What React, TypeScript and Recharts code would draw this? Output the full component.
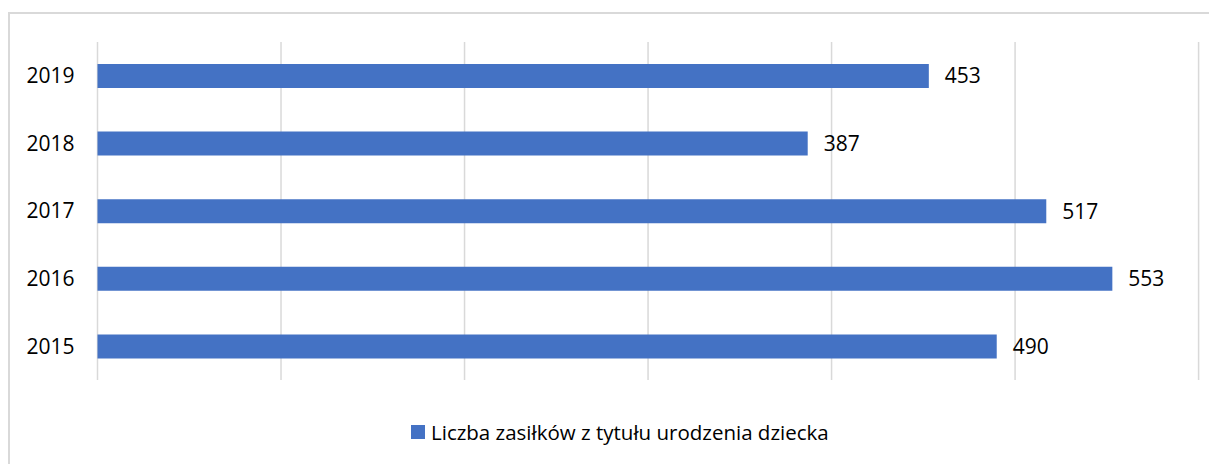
import React from "react";
import { BarChart, Bar, XAxis, YAxis, CartesianGrid, LabelList, Legend } from "recharts";

const years = ["2019", "2018", "2017", "2016", "2015"];
const values = [453, 387, 517, 553, 490];
const xTicks = [0, 100, 200, 300, 400, 500, 600];
const seriesName = "Liczba zasiłków z tytułu urodzenia dziecka";

const data = years.map((y, i) => ({ year: y, value: values[i] }));

const FONT = "'Open Sans', 'Liberation Sans', sans-serif";

const LegendContent = () => (
  <div style={{ display: "flex", alignItems: "center", height: 20, fontFamily: FONT, fontSize: 20.5, color: "#000", whiteSpace: "nowrap" }}>
    <span style={{ display: "inline-block", width: 14, height: 14, background: "#4472c4", marginRight: 6, flexShrink: 0 }} />
    <span>{seriesName}</span>
  </div>
);

export default function App() {
  return (
    <div style={{ position: "relative", width: 1209, height: 456, overflow: "hidden" }}>
      <div
        style={{
          position: "absolute",
          left: 0,
          top: 4,
          width: 1300,
          height: 600,
          borderLeft: "2px solid #d9d9d9",
          borderTop: "2px solid #d9d9d9",
        }}
      />
      <div style={{ position: "absolute", left: 0, top: 0 }}>
        <BarChart
          width={1209}
          height={456}
          data={data}
          layout="vertical"
          margin={{ top: 34, right: 18.4, bottom: 64, left: 9.5 }}
          barSize={24}
        >
          <CartesianGrid horizontal={false} vertical={true} stroke="#d9d9d9" strokeWidth={1.5} />
          <XAxis type="number" domain={[0, 600]} ticks={xTicks} hide />
          <YAxis
            type="category"
            dataKey="year"
            width={80}
            axisLine={false}
            tickLine={false}
            tickSize={0}
            tickMargin={23}
            tick={{ fill: "#000", fontSize: 21, fontFamily: FONT }}
          />
          <Legend
            verticalAlign="bottom"
            content={<LegendContent />}
            wrapperStyle={{ top: 414, left: 403, width: 520, bottom: "auto" }}
          />
          <Bar dataKey="value" name={seriesName} fill="#4472c4" isAnimationActive={false}>
            <LabelList
              dataKey="value"
              position="right"
              offset={16}
              style={{ fill: "#000", fontSize: 21, fontFamily: FONT }}
            />
          </Bar>
        </BarChart>
      </div>
    </div>
  );
}
